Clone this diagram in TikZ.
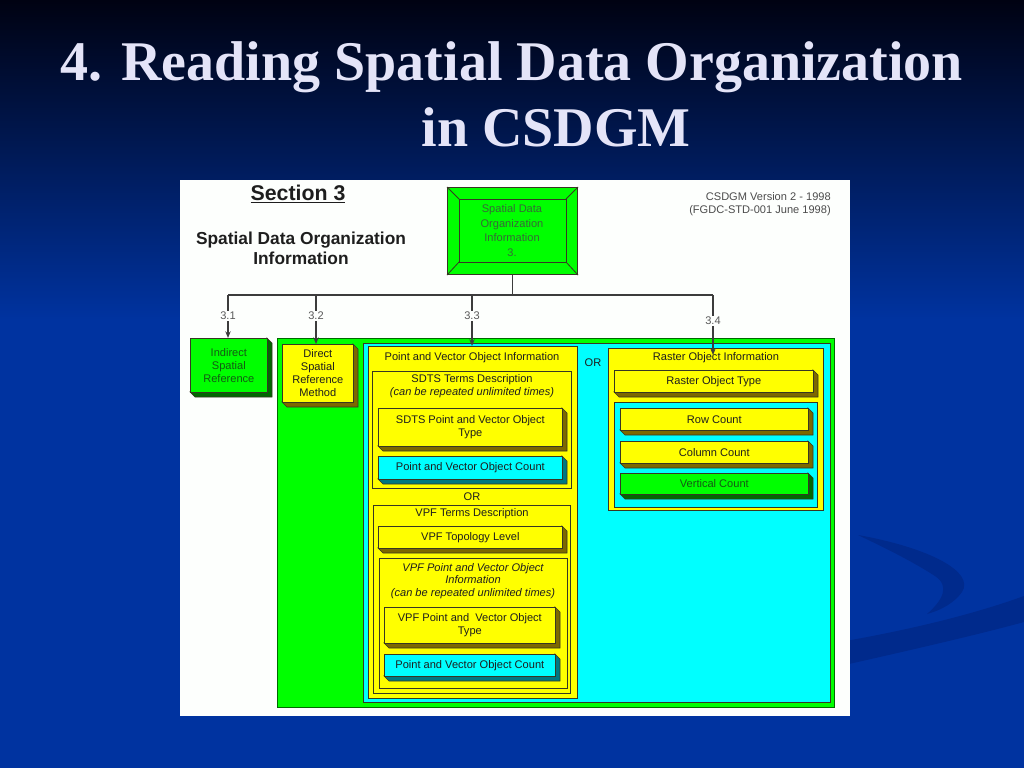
\documentclass[tikz,border=0pt]{standalone}
\usepackage{fontspec}
\setmainfont{Liberation Sans}
\newfontfamily\titlefont{Liberation Serif}
\usetikzlibrary{arrows.meta}
\definecolor{bgblue}{RGB}{0,51,160}
\definecolor{bgtop}{RGB}{0,2,18}
\definecolor{swoosh}{RGB}{0,42,140}
\definecolor{titlec}{RGB}{228,228,248}
\definecolor{panel}{RGB}{253,255,253}
\definecolor{gr}{RGB}{0,255,0}
\definecolor{grd}{RGB}{0,105,0}
\definecolor{grtext}{RGB}{20,90,20}
\definecolor{toptext}{RGB}{55,105,55}
\definecolor{ye}{RGB}{255,255,0}
\definecolor{yed}{RGB}{125,105,0}
\definecolor{cy}{RGB}{0,255,255}
\definecolor{cyd}{RGB}{0,120,130}
\definecolor{edge}{RGB}{55,55,35}
\definecolor{linec}{RGB}{60,60,60}
\definecolor{dtext}{RGB}{30,30,30}
\newcommand{\sm}{\fontsize{8.3}{9.8}\selectfont}
\newcommand{\tdbox}[9]{%
  \filldraw[fill=#7, draw=edge, line width=0.5pt] (#2,#5) -- (#2+5,#5+5) -- (#4+5,#5+5) -- (#4+5,#3+5) -- (#4,#3) -- (#4,#5) -- cycle;
  \node[boxnode, fill=#6, text=#8, minimum width={(#4-#2)*0.75pt}, minimum height={(#5-#3)*0.75pt}] (#1) at (#2,#3) {#9};
}
\newcommand{\flatbox}[7]{%
  \node[boxnode, fill=#6, draw=#7, minimum width={(#4-#2)*0.75pt}, minimum height={(#5-#3)*0.75pt}] (#1) at (#2,#3) {};
}
\tikzset{
  boxnode/.style={draw=edge, line width=0.5pt, anchor=north west, align=center, inner sep=1pt, font=\sm},
  txt/.style={font=\sm, text=dtext, inner sep=0pt, align=center},
  ital/.style={font=\sm\itshape, text=dtext, inner sep=0pt, align=center},
  conn/.style={draw=linec, line width=0.9pt},
  arr/.style={conn, -{Stealth[length=5pt,width=4pt]}},
  lab/.style={font=\sm, text=gray!70!black, fill=panel, inner sep=1pt},
  titlestyle/.style={font=\titlefont\bfseries\fontsize{42}{48}\selectfont, inner sep=0pt}
}
\begin{document}
\begin{tikzpicture}[x=0.75pt,y=-0.75pt]
\useasboundingbox (0,0) rectangle (1024,768);
% background
\shade[top color=bgtop, bottom color=bgblue] (0,0) rectangle (1024,320);
\fill[bgblue] (0,319) rectangle (1024,768);
\fill[swoosh] (858,535) .. controls (930,548) and (975,572) .. (962,592) .. controls (955,602) and (942,610) .. (927,614) .. controls (943,600) and (950,586) .. (935,576) .. controls (910,560) and (885,548) .. cycle;
\fill[swoosh] (840,642) .. controls (920,628) and (980,612) .. (1024,596) -- (1024,622) .. controls (980,634) and (920,648) .. (840,666) -- cycle;
% title
\node[titlestyle, text=titlec, anchor=base] (title1) at (512,80) {4. Reading Spatial Data Organization};
\node[titlestyle, text=titlec, anchor=base] (title2) at (556,146) {in CSDGM};
% panel
\fill[panel] (180,180) rectangle (850,716);
% headings
\node[font=\bfseries\fontsize{16}{19}\selectfont, text=dtext, inner sep=0pt] (sec) at (298,194) {\underline{Section 3}};
\node[font=\bfseries\fontsize{13}{15}\selectfont, text=dtext, inner sep=0pt, align=center] (sdoh) at (301,248) {Spatial Data Organization\\Information};
\node[font=\sm, text=gray!60!black, align=right, anchor=north east, inner sep=0pt] (ver) at (831,192) {CSDGM Version 2 - 1998\\(FGDC-STD-001 June 1998)};
% top bevel box
\node[boxnode, fill=gr, draw=edge, line width=0.8pt, minimum width={130*0.75pt}, minimum height={87*0.75pt}] (sdoi) at (447,187) {};
\draw[edge, line width=0.6pt] (459,199) rectangle (566,262);
\draw[edge, line width=0.6pt] (sdoi.north west) -- (459,199) (sdoi.north east) -- (566,199) (sdoi.south west) -- (459,262) (sdoi.south east) -- (566,262);
\node[font=\fontsize{8.3}{11}\selectfont, text=toptext, align=center, inner sep=0pt] (sdoit) at (512,230.5) {Spatial Data\\Organization\\Information\\3.};
% left boxes
\tdbox{indirect}{190}{338}{267}{392}{gr}{grd}{grtext}{Indirect\\Spatial\\Reference}
\flatbox{greenc}{277}{338}{834}{707}{gr}{grd}
\tdbox{direct}{282}{344}{353}{402}{ye}{yed}{dtext}{Direct\\Spatial\\Reference\\Method}
\flatbox{cyanc}{363}{343}{830}{702}{cy}{edge}
% point and vector object information
\flatbox{pvoi}{368}{346}{577}{698}{ye}{edge}
\node[txt] (pvoit) at (472,358) {Point and Vector Object Information};
\node[txt] (or1) at (593,363) {OR};
\flatbox{sdts}{372}{371}{571}{488}{ye}{edge}
\node[txt] (sdtst) at (472,380) {SDTS Terms Description};
\node[ital] (sdtsr) at (472,393) {(can be repeated unlimited times)};
\tdbox{sdtstype}{378}{408}{562}{446}{ye}{yed}{dtext}{SDTS Point and Vector Object\\Type}
\tdbox{sdtscount}{378}{456}{562}{479}{cy}{cyd}{dtext}{Point and Vector Object Count}
\node[txt] (or2) at (472,497) {OR};
\flatbox{vpf}{373}{505}{570}{693}{ye}{edge}
\node[txt] (vpft) at (472,514) {VPF Terms Description};
\tdbox{vpftopo}{378}{526}{562}{548}{ye}{yed}{dtext}{VPF Topology Level}
\flatbox{vpfpvoi}{379}{558}{567}{688}{ye}{edge}
\node[ital, font=\fontsize{8.3}{9.6}\selectfont\itshape] (vpfpvoit) at (473,581) {VPF Point and Vector Object\\Information\\(can be repeated unlimited times)};
\tdbox{vpftype}{384}{607}{555}{643}{ye}{yed}{dtext}{VPF Point and \ Vector Object\\Type}
\tdbox{vpfcount}{384}{654}{555}{676}{cy}{cyd}{dtext}{Point and Vector Object Count}
% raster
\flatbox{raster}{608}{348}{823}{510}{ye}{edge}
\node[txt] (rastert) at (716,358) {Raster Object Information};
\tdbox{rtype}{614}{370}{813}{392}{ye}{yed}{dtext}{Raster Object Type}
\flatbox{rcounts}{614}{402}{817}{507}{cy}{edge}
\tdbox{rowc}{620}{408}{808}{430}{ye}{yed}{dtext}{Row Count}
\tdbox{colc}{620}{441}{808}{463}{ye}{yed}{dtext}{Column Count}
\tdbox{vertc}{620}{473}{808}{494}{gr}{grd}{grtext}{Vertical Count}
% connectors
\coordinate (busL) at (228,295);
\coordinate (bus2) at (316,295);
\coordinate (bus3) at (472,295);
\coordinate (busT) at (512,295);
\coordinate (busR) at (713,295);
\coordinate (a34) at (713,355);
\draw[conn] (sdoi.south) -- (sdoi.south |- busT);
\draw[conn] (busL) -- (busR);
\draw[arr] (busL) -- (busL |- indirect.north);
\draw[arr] (bus2) -- (bus2 |- direct.north);
\draw[arr] (bus3) -- (bus3 |- pvoi.north);
\draw[arr] (busR) -- (a34);
\node[lab] (l31) at (228,316) {3.1};
\node[lab] (l32) at (316,316) {3.2};
\node[lab] (l33) at (472,316) {3.3};
\node[lab] (l34) at (713,321) {3.4};
\end{tikzpicture}
\end{document}
